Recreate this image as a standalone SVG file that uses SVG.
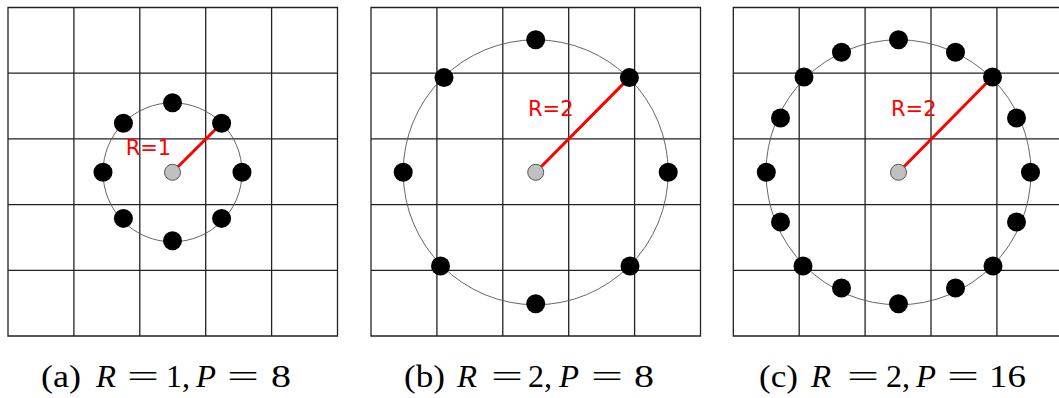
<svg xmlns="http://www.w3.org/2000/svg" width="1059" height="398" viewBox="0 0 1059 398">
<style>
.grid{fill:none;stroke:#222;stroke-width:1.3}
.ring{fill:none;stroke:#555;stroke-width:0.9}
.rad{stroke:#ff0000;stroke-width:3;stroke-linecap:round}
.pt{fill:#000}
.ctr{fill:#c0c0c0;stroke:#555;stroke-width:1}
.lbl{font-family:"DejaVu Sans",sans-serif;font-size:21px;fill:#ff0000}
.cap{font-family:"Liberation Serif",serif;font-size:31px;fill:#000}
.it{font-style:italic}
</style>
<rect width="1059" height="398" fill="#fff"/>

<g id="panel-a">
  <path class="grid" d="M8,7.5H337.5V336H8Z M73.9,7.5V336 M139.8,7.5V336 M205.7,7.5V336 M271.6,7.5V336 M8,73.2H337.5 M8,138.9H337.5 M8,204.6H337.5 M8,270.3H337.5"/>
  <circle class="ring" cx="172.5" cy="172.3" r="69.5"/>
  <line class="rad" x1="172.5" y1="172.3" x2="221.6" y2="123.2"/>
  <g class="pt">
    <circle cx="172.5" cy="102.8" r="9.5"/>
    <circle cx="221.6" cy="123.2" r="9.5"/>
    <circle cx="242" cy="172.3" r="9.5"/>
    <circle cx="221.6" cy="218.4" r="9.5"/>
    <circle cx="172.5" cy="240.8" r="9.5"/>
    <circle cx="123.4" cy="218.4" r="9.5"/>
    <circle cx="103" cy="172.3" r="9.5"/>
    <circle cx="123.4" cy="123.2" r="9.5"/>
  </g>
  <circle class="ctr" cx="172.5" cy="172.3" r="8"/>
  <text class="lbl" x="125.7" y="155">R=1</text>
</g>

<g id="panel-b">
  <path class="grid" d="M371,7.5H700.5V336H371Z M436.9,7.5V336 M502.8,7.5V336 M568.7,7.5V336 M634.6,7.5V336 M371,73.2H700.5 M371,138.9H700.5 M371,204.6H700.5 M371,270.3H700.5"/>
  <circle class="ring" cx="535.7" cy="172.3" r="132.5"/>
  <line class="rad" x1="535.7" y1="172.3" x2="629.4" y2="77.6"/>
  <g class="pt">
    <circle cx="535.7" cy="39.8" r="9.5"/>
    <circle cx="629.4" cy="77.6" r="9.5"/>
    <circle cx="668.2" cy="172.3" r="9.5"/>
    <circle cx="630" cy="266" r="9.5"/>
    <circle cx="535.7" cy="303.8" r="9.5"/>
    <circle cx="440.5" cy="266" r="9.5"/>
    <circle cx="403.2" cy="172.3" r="9.5"/>
    <circle cx="444" cy="77.6" r="9.5"/>
  </g>
  <circle class="ctr" cx="535.7" cy="172.3" r="8"/>
  <text class="lbl" x="528" y="116">R=2</text>
</g>

<g id="panel-c">
  <path class="grid" d="M733.3,7.5H1062.8V336H733.3Z M799.2,7.5V336 M865.1,7.5V336 M931,7.5V336 M996.9,7.5V336 M733.3,73.2H1062.8 M733.3,138.9H1062.8 M733.3,204.6H1062.8 M733.3,270.3H1062.8"/>
  <circle class="ring" cx="898.5" cy="172.3" r="132.5"/>
  <line class="rad" x1="898.5" y1="172.3" x2="992.5" y2="77"/>
  <g class="pt">
    <circle cx="898.5" cy="39.8" r="9.5"/>
    <circle cx="955.5" cy="52.3" r="9.5"/>
    <circle cx="992.5" cy="77" r="9.5"/>
    <circle cx="1016.5" cy="118" r="9.5"/>
    <circle cx="1030.5" cy="172.3" r="9.5"/>
    <circle cx="1016.5" cy="222" r="9.5"/>
    <circle cx="993" cy="266" r="9.5"/>
    <circle cx="955.5" cy="288" r="9.5"/>
    <circle cx="898.5" cy="303.8" r="9.5"/>
    <circle cx="841.5" cy="288" r="9.5"/>
    <circle cx="803" cy="266" r="9.5"/>
    <circle cx="780.5" cy="222" r="9.5"/>
    <circle cx="766.3" cy="172.3" r="9.5"/>
    <circle cx="780.5" cy="118" r="9.5"/>
    <circle cx="804" cy="77" r="9.5"/>
    <circle cx="841.5" cy="52.3" r="9.5"/>
  </g>
  <circle class="ctr" cx="898.5" cy="172.3" r="8"/>
  <text class="lbl" x="891" y="116">R=2</text>
</g>

<g id="captions">
  <text class="cap" y="387"><tspan x="41" textLength="40" lengthAdjust="spacingAndGlyphs">(a)</tspan><tspan class="it" x="96" textLength="20" lengthAdjust="spacingAndGlyphs">R</tspan><tspan x="127" textLength="32" lengthAdjust="spacingAndGlyphs">=</tspan><tspan x="166" textLength="24" lengthAdjust="spacingAndGlyphs">1,</tspan><tspan class="it" x="196" textLength="20" lengthAdjust="spacingAndGlyphs">P</tspan><tspan x="227" textLength="32" lengthAdjust="spacingAndGlyphs">=</tspan><tspan x="271" textLength="20" lengthAdjust="spacingAndGlyphs">8</tspan></text>
  <text class="cap" y="387"><tspan x="404" textLength="41" lengthAdjust="spacingAndGlyphs">(b)</tspan><tspan class="it" x="457" textLength="20" lengthAdjust="spacingAndGlyphs">R</tspan><tspan x="491" textLength="32" lengthAdjust="spacingAndGlyphs">=</tspan><tspan x="528" textLength="24" lengthAdjust="spacingAndGlyphs">2,</tspan><tspan class="it" x="559" textLength="20" lengthAdjust="spacingAndGlyphs">P</tspan><tspan x="591" textLength="32" lengthAdjust="spacingAndGlyphs">=</tspan><tspan x="634" textLength="20" lengthAdjust="spacingAndGlyphs">8</tspan></text>
  <text class="cap" y="387"><tspan x="759" textLength="39" lengthAdjust="spacingAndGlyphs">(c)</tspan><tspan class="it" x="811" textLength="20" lengthAdjust="spacingAndGlyphs">R</tspan><tspan x="847" textLength="32" lengthAdjust="spacingAndGlyphs">=</tspan><tspan x="886" textLength="24" lengthAdjust="spacingAndGlyphs">2,</tspan><tspan class="it" x="916" textLength="20" lengthAdjust="spacingAndGlyphs">P</tspan><tspan x="947" textLength="32" lengthAdjust="spacingAndGlyphs">=</tspan><tspan x="989" textLength="37" lengthAdjust="spacingAndGlyphs">16</tspan></text>
</g>
</svg>
